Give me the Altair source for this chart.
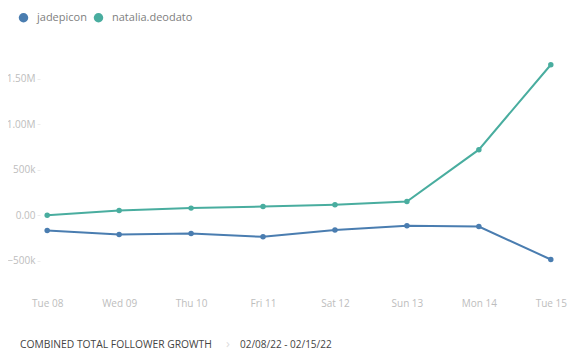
import altair as alt
import pandas as pd

days = ["Tue 08", "Wed 09", "Thu 10", "Fri 11", "Sat 12", "Sun 13", "Mon 14", "Tue 15"]
jadepicon = [-167000, -211000, -200000, -236000, -162000, -115000, -123000, -485000]
natalia = [0, 53000, 79000, 96000, 115000, 151000, 721000, 1653000]
series = ["jadepicon", "natalia.deodato"]
colors = ["#4a7db0", "#49ad9f"]
y_ticks = [-500000, 0, 500000, 1000000, 1500000]
footer_title = "COMBINED TOTAL FOLLOWER GROWTH"
footer_sep = "›"
footer_range = "02/08/22 - 02/15/22"

rows = []
for d, j, n in zip(days, jadepicon, natalia):
    rows.append({"day": d, "account": series[0], "value": j})
    rows.append({"day": d, "account": series[1], "value": n})
df = pd.DataFrame(rows)

FONT = "Open Sans"

x = alt.X("day:O", sort=days, title=None,
          scale=alt.Scale(type="point", padding=0.1),
          axis=alt.Axis(labelAngle=0, domain=False, ticks=False, labelPadding=8,
                        labelColor="#bdbdbd", labelFontSize=10, labelFont=FONT, grid=False))
y = alt.Y("value:Q", title=None,
          scale=alt.Scale(domain=[-820000, 1760000], nice=False, zero=False),
          axis=alt.Axis(values=y_ticks, domain=False, ticks=True, tickSize=3, tickColor="#ececec",
                        labelPadding=2, grid=False, labelColor="#bdbdbd", labelFontSize=10,
                        labelFont=FONT,
                        labelExpr="datum.value == 0 ? '0.00' : (abs(datum.value) >= 1000000 ? format(datum.value/1000000, '.2f') + 'M' : format(datum.value/1000, 'd') + 'k')"))
color = alt.Color("account:N", sort=series,
                  scale=alt.Scale(domain=series, range=colors),
                  legend=alt.Legend(title=None, orient="none", direction="horizontal",
                                    legendX=-22, legendY=-43, symbolType="circle",
                                    symbolSize=90, symbolStrokeWidth=0, labelFontSize=11,
                                    labelColor="#808080", labelFont=FONT, labelOffset=8,
                                    columnPadding=6, padding=0, symbolOpacity=1))

base = alt.Chart(df)
lines = base.mark_line(strokeWidth=2).encode(x=x, y=y, color=color)
points = base.mark_point(filled=True, size=30, opacity=1).encode(x=x, y=y, color=color)

one = pd.DataFrame({"t1": [footer_title], "t2": [footer_sep], "t3": [footer_range]})
f1 = alt.Chart(one).mark_text(align="left", baseline="middle", fontSize=10.3, font=FONT,
                              color="#444444").encode(
    x=alt.value(-20), y=alt.value(290), text="t1:N")
f2 = alt.Chart(one).mark_text(align="left", baseline="middle", fontSize=13, font=FONT,
                              color="#dddddd").encode(
    x=alt.value(186), y=alt.value(289), text="t2:N")
f3 = alt.Chart(one).mark_text(align="left", baseline="middle", fontSize=10, font=FONT,
                              color="#444444").encode(
    x=alt.value(200), y=alt.value(290), text="t3:N")

chart = alt.layer(lines, points, f1, f2, f3).properties(
    width=518, height=235,
    autosize=alt.AutoSizeParams(type="none"),
    padding={"left": 32, "top": 47, "right": 17, "bottom": 70},
).configure(font=FONT).configure_view(stroke=None, strokeWidth=0).configure_axis(
    domain=False, grid=False
)

chart.save("out.html", embed_options={"renderer": "svg", "actions": False})
